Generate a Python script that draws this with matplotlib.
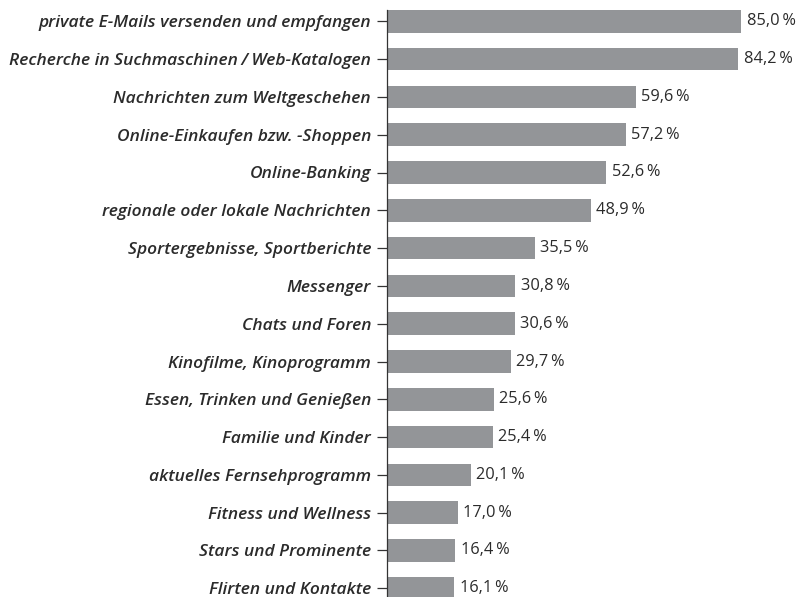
import matplotlib.pyplot as plt

categories = [
    "private E-Mails versenden und empfangen",
    "Recherche in Suchmaschinen\u2009/\u2009Web-Katalogen",
    "Nachrichten zum Weltgeschehen",
    "Online-Einkaufen bzw. -Shoppen",
    "Online-Banking",
    "regionale oder lokale Nachrichten",
    "Sportergebnisse, Sportberichte",
    "Messenger",
    "Chats und Foren",
    "Kinofilme, Kinoprogramm",
    "Essen, Trinken und Genießen",
    "Familie und Kinder",
    "aktuelles Fernsehprogramm",
    "Fitness und Wellness",
    "Stars und Prominente",
    "Flirten und Kontakte",
]
values = [85.0, 84.2, 59.6, 57.2, 52.6, 48.9, 35.5, 30.8, 30.6, 29.7, 25.6, 25.4, 20.1, 17.0, 16.4, 16.1]

text_color = "#2b2b2b"
bar_color = "#939598"

fig = plt.figure(figsize=(8.04, 5.97), dpi=100)
ax = fig.add_axes([387 / 804, 0, 1 - 387 / 804, 1 - 10 / 597])

pos = list(range(len(values)))
ax.barh(pos, values, height=0.6, color=bar_color, zorder=2)
ax.set_xlim(0, 100)
# px per category ~37.8, first centre at y=21.3 px
ax.set_ylim((597 - 21.3) / 37.8, -(21.3 - 10) / 37.8)

ax.set_yticks(pos)
ax.set_yticklabels(categories, fontfamily=["Open Sans", "DejaVu Sans"], fontstyle="italic",
                   fontweight="semibold", fontsize=12.5, color=text_color)
ax.tick_params(axis="y", length=7, width=0.9, color="#333333", pad=4.5)
ax.set_xticks([])

for s in ["top", "right", "bottom"]:
    ax.spines[s].set_visible(False)
ax.spines["left"].set_color("#333333")
ax.spines["left"].set_linewidth(0.9)

for p, v in zip(pos, values):
    ax.text(v + 1.3, p, f"{v:.1f}".replace(".", ",") + "\u2009%", va="center", ha="left",
            fontsize=11.8, fontfamily=["Open Sans", "DejaVu Sans"], color=text_color)

fig.savefig("out.png", dpi=100)
